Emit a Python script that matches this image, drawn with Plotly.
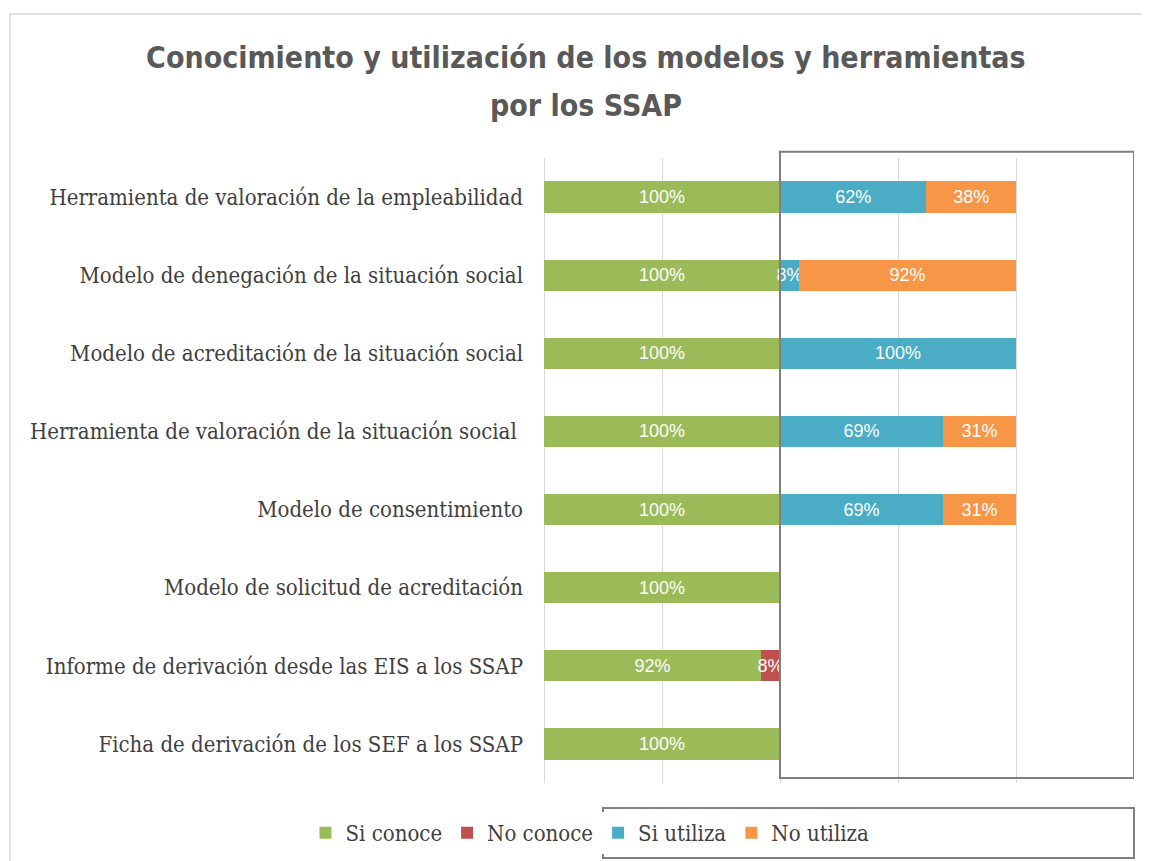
import plotly.graph_objects as go

categories = ["Herramienta de valoración de la empleabilidad",
              "Modelo de denegación de la situación social",
              "Modelo de acreditación de la situación social",
              "Herramienta de valoración de la situación social ",
              "Modelo de consentimiento",
              "Modelo de solicitud de acreditación",
              "Informe de derivación desde las EIS a los SSAP",
              "Ficha de derivación de los SEF a los SSAP"]

si_conoce = [1.00, 1.00, 1.00, 1.00, 1.00, 1.00, 0.92, 1.00]
no_conoce = [0.00, 0.00, 0.00, 0.00, 0.00, 0.00, 0.08, 0.00]
si_utiliza = [0.62, 0.08, 1.00, 0.69, 0.69, 0.00, 0.00, 0.00]
no_utiliza = [0.38, 0.92, 0.00, 0.31, 0.31, 0.00, 0.00, 0.00]

series = [("Si conoce", si_conoce, "#9BBB59"),
          ("No conoce", no_conoce, "#C0504D"),
          ("Si utiliza", si_utiliza, "#4BACC6"),
          ("No utiliza", no_utiliza, "#F79646")]

title_font = "DejaVu Sans Condensed, Liberation Sans, sans-serif"
label_font = "Liberation Sans, sans-serif"
serif_font = "DejaVu Serif Condensed, Liberation Serif, serif"

fig = go.Figure()
for name, vals, color in series:
    fig.add_trace(go.Bar(
        y=categories, x=vals, name=name, orientation="h",
        marker=dict(color=color, line=dict(width=0)),
        text=[f"{v*100:.0f}%" if v > 0 else "" for v in vals],
        textposition="inside", insidetextanchor="middle", textangle=0,
        constraintext="none",
        textfont=dict(color="white", size=18, family=label_font),
        width=0.4,
    ))

fig.update_layout(
    barmode="stack",
    width=1142, height=853,
    margin=dict(l=536, r=16, t=150, b=78),
    paper_bgcolor="white", plot_bgcolor="white",
    title=dict(text="<b>Conocimiento y utilización de los modelos y herramientas</b>",
               x=0.506, xanchor="center", y=0.9414, yanchor="middle",
               font=dict(family=title_font, size=30, color="#595959")),
    xaxis=dict(range=[0, 2.5], dtick=0.5, showticklabels=False, showgrid=True,
               gridcolor="#d9d9d9", gridwidth=1, zeroline=True,
               zerolinecolor="#d9d9d9", zerolinewidth=1, showline=False),
    yaxis=dict(autorange="reversed", showgrid=False, ticks="", ticklabelstandoff=20,
               tickfont=dict(family=serif_font, size=22, color="#404040")),
    legend=dict(orientation="h", xref="container", yref="container",
                x=0.5096, xanchor="center", y=0.0328, yanchor="middle",
                font=dict(family=serif_font, size=22, color="#404040"),
                traceorder="normal"),
    showlegend=True,
)

# second line of the title
fig.add_annotation(text="<b>por los SSAP</b>", xref="paper", yref="paper",
                   x=0.0712, y=1.0848, xanchor="center", yanchor="middle", showarrow=False,
                   font=dict(family=title_font, size=30, color="#595959"))

# outer chart frame
fig.add_shape(type="rect", xref="paper", yref="paper", x0=-0.905, x1=1.2, y0=-0.3, y1=1.2304,
              line=dict(color="#d9d9d9", width=1.5), layer="below")
# box around the "utiliza" part
fig.add_shape(type="rect", xref="x", yref="paper", x0=1.0, x1=2.5, y0=0.008, y1=1.01,
              line=dict(color="#7f7f7f", width=2))
# box around the "utiliza" legend entries
fig.add_shape(type="rect", xref="paper", yref="paper", x0=0.1, x1=1.0, y0=-0.12, y1=-0.04,
              line=dict(color="#7f7f7f", width=2))

fig.write_html("out.html")
